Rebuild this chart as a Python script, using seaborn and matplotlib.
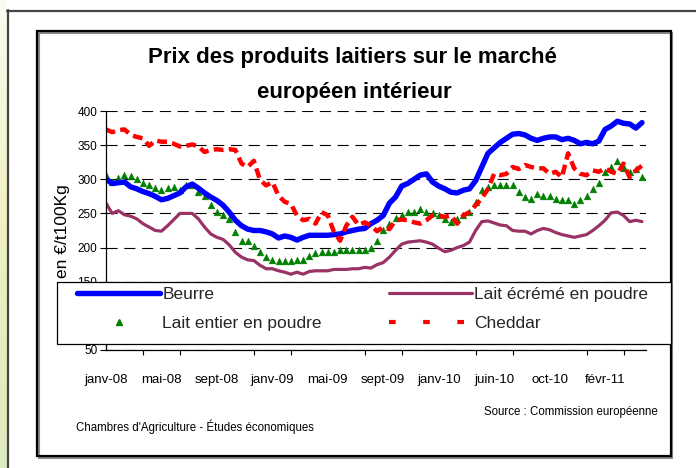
import numpy as np
import matplotlib.pyplot as plt
import seaborn as sns
from matplotlib.lines import Line2D
from matplotlib.patches import Rectangle

sns.set_theme(style="white")
plt.rcParams['font.family'] = ['Liberation Sans', 'DejaVu Sans']

W, H = 696, 468

# weekly series, one value every 2 weeks starting janv-08
weeks = list(range(0, 176, 2))

beurre = [300, 294, 295, 296, 289, 286, 282, 279, 275, 270,
          272, 276, 280, 289, 293, 287, 280, 274, 269, 262,
          252, 240, 232, 227, 225, 225, 223, 220, 214, 217,
          215, 211, 215, 218, 218, 218, 218, 219, 220, 223,
          225, 227, 228, 235, 240, 247, 265, 274, 290, 294,
          300, 306, 308, 296, 290, 286, 281, 280, 284, 286,
          298, 318, 338, 346, 354, 360, 366, 367, 365, 360,
          357, 360, 362, 362, 358, 360, 357, 352, 354, 352,
          356, 373, 378, 385, 382, 381, 375, 383]

ecreme = [265, 250, 254, 248, 246, 242, 235, 230, 225, 224,
          232, 241, 250, 250, 250, 242, 230, 220, 215, 212,
          204, 193, 186, 182, 181, 174, 169, 169, 166, 164,
          161, 164, 161, 165, 166, 166, 166, 168, 168, 168,
          169, 169, 171, 170, 175, 178, 186, 196, 205, 208,
          209, 210, 208, 205, 199, 194, 196, 200, 203, 208,
          225, 238, 239, 236, 233, 232, 225, 224, 224, 220,
          225, 228, 226, 222, 219, 217, 215, 217, 219, 225,
          232, 240, 251, 252, 247, 238, 240, 238]

entier = [306, 296, 302, 306, 305, 300, 295, 291, 287, 284,
          287, 289, 285, 291, 292, 282, 275, 262, 252, 247,
          242, 223, 210, 209, 203, 193, 186, 182, 181, 181,
          181, 182, 182, 187, 192, 193, 193, 194, 197, 196,
          196, 196, 197, 199, 210, 225, 235, 243, 247, 252,
          252, 256, 252, 250, 247, 242, 237, 242, 247, 252,
          267, 284, 289, 291, 291, 291, 291, 282, 274, 271,
          279, 275, 275, 271, 269, 269, 264, 269, 275, 286,
          294, 311, 318, 327, 316, 311, 315, 303]

cheddar = [373, 369, 372, 373, 365, 362, 360, 349, 357, 355,
           355, 352, 348, 349, 351, 348, 340, 343, 344, 343,
           344, 343, 323, 318, 327, 299, 291, 296, 276, 267,
           264, 247, 240, 242, 235, 252, 247, 223, 210, 232,
           245, 233, 237, 232, 224, 230, 227, 240, 241, 240,
           237, 235, 240, 247, 247, 245, 247, 235, 247, 252,
           262, 272, 286, 308, 306, 308, 318, 315, 321, 318,
           316, 316, 308, 311, 303, 338, 316, 308, 306, 313,
           311, 316, 311, 308, 323, 303, 313, 320]

month_labels = ['janv-08', 'mai-08', 'sept-08', 'janv-09', 'mai-09',
                'sept-09', 'janv-10', 'juin-10', 'oct-10', 'févr-11']
label_weeks = [0, 18, 36, 54, 72, 90, 108, 126, 144, 162]
tick_weeks = [0, 12, 24, 36, 48, 60, 72, 84, 96, 108, 120, 132, 144, 156, 168]

series_names = ['Beurre', 'Lait entier en poudre', 'Lait écrémé en poudre', 'Cheddar']


def fx(px):
    return px / W


def fy(py):
    return 1 - py / H


fig = plt.figure(figsize=(W / 100, H / 100), dpi=100)

# pale gradient strip on the far left
grad_ax = fig.add_axes([0, 0, fx(7), 1])
grad = np.linspace(0, 1, 100).reshape(-1, 1)
grad_ax.imshow(grad, aspect='auto', cmap=sns.blend_palette(['#fbfbf0', '#eef0bf', '#dde9c0'], as_cmap=True),
               extent=[0, 1, 0, 1])
grad_ax.axis('off')

# outer and inner frames
fig.add_artist(Line2D([fx(7), 1], [fy(10.5), fy(10.5)], color='#444444', lw=1.6))
fig.add_artist(Line2D([fx(7.5), fx(7.5)], [fy(10), 0], color='#444444', lw=1.6))
fig.add_artist(Rectangle((fx(39), fy(458)), fx(672) - fx(39), fy(33) - fy(458),
                         transform=fig.transFigure, fill=False, ec='#888888', lw=1.5, zorder=0.5))
fig.add_artist(Rectangle((fx(37), fy(456)), fx(671) - fx(37), fy(31) - fy(456),
                         transform=fig.transFigure, fill=False, ec='black', lw=1.6, zorder=0.6))

ax = fig.add_axes([fx(106), fy(350), fx(646) - fx(106), fy(111) - fy(350)])
ax.set_facecolor('white')

sns.lineplot(x=weeks, y=beurre, ax=ax, color='#0000ff', lw=3.9, solid_capstyle='round',
             solid_joinstyle='round')
sns.lineplot(x=weeks, y=ecreme, ax=ax, color='#993366', lw=2.3, solid_joinstyle='round')
sns.scatterplot(x=weeks, y=entier, ax=ax, marker='^', color='#008000', s=24, edgecolor='#008000',
                linewidth=0.3)
sns.lineplot(x=weeks, y=cheddar, ax=ax, color='#ff0000', lw=3.2, linestyle=(0, (2.2, 1.2)))

ax.set_xlim(0, 175.3)
ax.set_ylim(50, 400)
ax.set_yticks(range(50, 401, 50))
ax.tick_params(axis='y', left=True, direction='out', length=4.3, width=0.8, color='black',
               labelsize=8.5, pad=2, labelcolor='black')
ax.set_xticks(label_weeks)
ax.set_xticklabels(month_labels)
ax.set_xticks(tick_weeks, minor=True)
ax.tick_params(axis='x', which='major', bottom=True, length=0, labelsize=9.5, pad=17, labelcolor='black')
ax.tick_params(axis='x', which='minor', bottom=True, direction='out', length=3.8, width=0.8, color='black')
ax.yaxis.grid(True, color='black', linestyle=(0, (10, 6)), lw=0.8)
ax.xaxis.grid(False)
for side in ['top', 'right']:
    ax.spines[side].set_visible(False)
for side in ['left', 'bottom']:
    ax.spines[side].set_color('black')
    ax.spines[side].set_linewidth(0.9)
ax.set_xlabel('')
ax.set_ylabel('')

# titles and notes
fig.text(fx(352), fy(63), 'Prix des produits laitiers sur le marché', ha='center', va='baseline',
         fontsize=16, fontweight='bold', color='black')
fig.text(fx(354), fy(98), 'européen intérieur', ha='center', va='baseline',
         fontsize=16, fontweight='bold', color='black')
fig.text(fx(62), fy(231), 'en €/t100Kg', rotation=90, ha='center', va='center', fontsize=12.5,
         color='black', zorder=2)
fig.text(fx(76), fy(427), "Chambres d'Agriculture - Études économiques", ha='left', va='center',
         fontsize=8.3, color='black')
fig.text(fx(658), fy(412), 'Source : Commission européenne', ha='right', va='center',
         fontsize=8.3, color='black')

# legend box over the lower part of the plot
fig.add_artist(Rectangle((fx(57), fy(344)), fx(671) - fx(57), fy(282) - fy(344),
                         transform=fig.transFigure, fc='white', ec='black', lw=0.9, zorder=4))
handles = [
    Line2D([], [], color='#0000ff', lw=3.9, solid_capstyle='round'),
    Line2D([], [], color='#008000', marker='^', linestyle='None', markersize=4),
    Line2D([], [], color='#993366', lw=2.3, solid_capstyle='round'),
    Line2D([], [], color='#ff0000', lw=3, linestyle=(0, (1.6, 6.6))),
]
leg = fig.legend(handles, series_names, loc='upper left', bbox_to_anchor=(fx(77), fy(287)),
                 bbox_transform=fig.transFigure, ncol=2, frameon=False, fontsize=12.5,
                 handlelength=4.8, handletextpad=0.12, columnspacing=3.85, labelspacing=0.8,
                 borderpad=0, borderaxespad=0)
leg.set_zorder(5)

fig.savefig('out.png', dpi=100)
